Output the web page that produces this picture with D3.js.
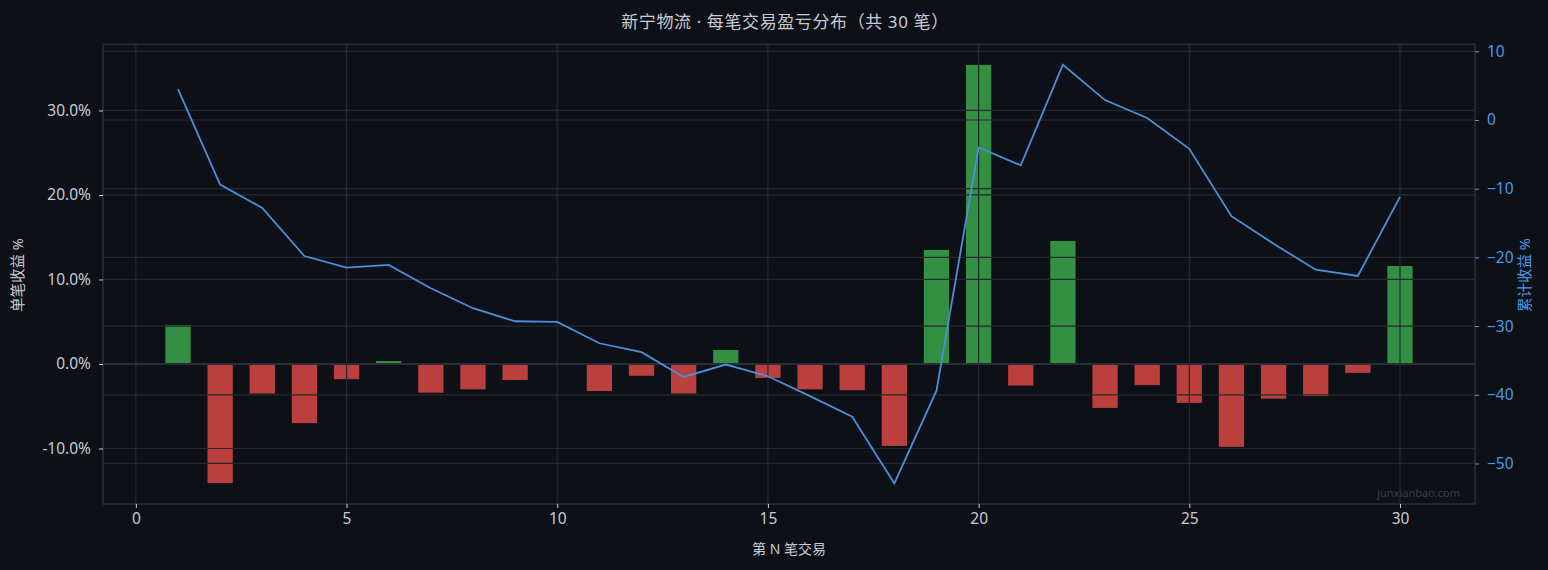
<!DOCTYPE html>
<html><head><meta charset="utf-8">
<script src="https://cdn.jsdelivr.net/npm/d3@7"></script>
<style>
html,body{margin:0;padding:0;background:#0d1017;}
svg{display:block;font-family:"Noto Sans","Noto Sans CJK SC",sans-serif;}
</style></head><body>
<svg id="c" width="1548" height="570"></svg>
<script>
const trades = d3.range(1, 31);
const tradeReturns = [4.6,-14.1,-3.5,-7.0,-1.8,0.35,-3.4,-3.0,-1.9,-0.05,-3.2,-1.4,-3.5,1.65,-1.65,-3.0,-3.1,-9.7,13.5,35.4,-2.55,14.55,-5.2,-2.5,-4.6,-9.8,-4.1,-3.8,-1.05,11.6];
const cumReturns = [4.5,-9.4,-12.8,-19.8,-21.5,-21.1,-24.5,-27.4,-29.3,-29.4,-32.5,-33.8,-37.4,-35.6,-37.3,-40.2,-43.2,-52.9,-39.4,-4.0,-6.6,8.05,2.9,0.3,-4.2,-14.0,-18.0,-21.8,-22.7,-11.2];
const xTicks = [0,5,10,15,20,25,30];
const leftTicks = [30,20,10,0,-10];
const rightTicks = [10,0,-10,-20,-30,-40,-50];

const L=103, R=1475, T=44.3, B=504;
const svg = d3.select("#c");
const x = d3.scaleLinear().domain([-0.78,31.78]).range([L,R]);
const yL = d3.scaleLinear().domain([-16.57,37.83]).range([B,T]);
const yR = d3.scaleLinear().domain([-55.9,11.02]).range([B,T]);

const grid="#242831", txt="#c8ccd2", blue="#4a9be8";
svg.append("rect").attr("x",0).attr("y",0).attr("width",1548).attr("height",570).attr("fill","#0d1017");

// bars
const bw = x(0.6)-x(0);
svg.append("g").selectAll("rect").data(trades).join("rect")
  .attr("x",d=>x(d)-bw/2).attr("width",bw)
  .attr("y",(d,i)=>yL(Math.max(0,tradeReturns[i])))
  .attr("height",(d,i)=>Math.abs(yL(tradeReturns[i])-yL(0)))
  .attr("fill",(d,i)=>tradeReturns[i]>=0?"#338f41":"#bb403d");

// grids (drawn over bars)
const g = svg.append("g").attr("stroke",grid).attr("stroke-width",1.2);
g.selectAll(".gl").data(leftTicks).join("line").attr("x1",L).attr("x2",R).attr("y1",d=>yL(d)).attr("y2",d=>yL(d));
g.selectAll(".gr").data(rightTicks).join("line").attr("x1",L).attr("x2",R).attr("y1",d=>yR(d)).attr("y2",d=>yR(d));
g.selectAll(".gx").data(xTicks).join("line").attr("y1",T).attr("y2",B).attr("x1",d=>x(d)).attr("x2",d=>x(d));
// zero line
svg.append("line").attr("x1",L).attr("x2",R).attr("y1",yL(0)).attr("y2",yL(0)).attr("stroke","#2a2e37").attr("stroke-width",2.2);

// cumulative line
svg.append("path").datum(trades)
  .attr("d",d3.line().x(d=>x(d)).y((d,i)=>yR(cumReturns[i])))
  .attr("fill","none").attr("stroke","#4a90d9").attr("stroke-width",1.8).attr("stroke-linejoin","miter");

// frame
svg.append("rect").attr("x",L).attr("y",T).attr("width",R-L).attr("height",B-T)
  .attr("fill","none").attr("stroke","#2a2e37").attr("stroke-width",1.5);

// axes
function style(ax, col){
  ax.select(".domain").remove();
  ax.selectAll(".tick line").attr("stroke",col);
  ax.selectAll(".tick text").attr("fill",col).style("font-size","15.5px").style("font-family",'"Noto Sans","Noto Sans CJK SC",sans-serif');
}
const ax = svg.append("g").attr("transform",`translate(0,${B})`)
  .call(d3.axisBottom(x).tickValues(xTicks).tickSize(4).tickPadding(5).tickFormat(d3.format("d")));
style(ax, txt);
const al = svg.append("g").attr("transform",`translate(${L},0)`)
  .call(d3.axisLeft(yL).tickValues(leftTicks).tickSize(4).tickPadding(8).tickFormat(d=>d.toFixed(1)+"%"));
style(al, txt);
const ar = svg.append("g").attr("transform",`translate(${R},0)`)
  .call(d3.axisRight(yR).tickValues(rightTicks).tickSize(4).tickPadding(8).tickFormat(d3.format("d")));
style(ar, blue);

// labels
svg.append("text").attr("x",785).attr("y",28).attr("text-anchor","middle").attr("fill",txt)
  .style("font-size","17px").style("letter-spacing","0.6px").text("新宁物流 · 每笔交易盈亏分布（共 30 笔）");
svg.append("text").attr("x",789).attr("y",554).attr("text-anchor","middle").attr("fill",txt)
  .style("font-size","14px").text("第 N 笔交易");
svg.append("text").attr("transform","translate(23,275) rotate(-90)").attr("text-anchor","middle").attr("fill",txt)
  .style("font-size","14.5px").text("单笔收益 %");
svg.append("text").attr("transform","translate(1530,275) rotate(-90)").attr("text-anchor","middle").attr("fill",blue)
  .style("font-size","14.5px").text("累计收益 %");
svg.append("text").attr("x",1460).attr("y",497).attr("text-anchor","end").attr("fill","#3a3f48")
  .style("font-size","11px").text("junxianbao.com");
</script></body></html>
